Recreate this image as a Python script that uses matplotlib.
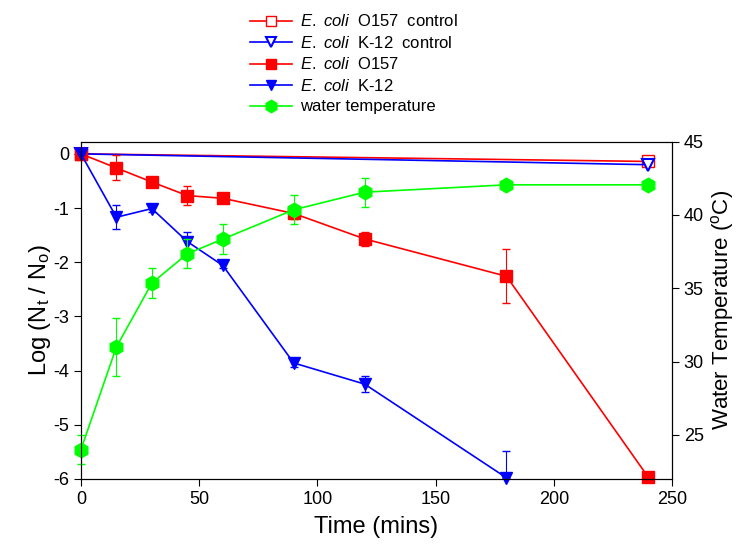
import matplotlib
matplotlib.use("Agg")
import matplotlib.pyplot as plt

plt.rcParams['font.family'] = ['Liberation Sans', 'DejaVu Sans']
plt.rcParams['mathtext.fontset'] = 'custom'
plt.rcParams['mathtext.rm'] = 'Liberation Sans'
plt.rcParams['mathtext.it'] = 'Liberation Sans:italic'
plt.rcParams['axes.unicode_minus'] = False

## data
time = [0, 15, 30, 45, 60, 90, 120, 180, 240]
time_ctrl = [0, 240]

o157_ctrl = [0.0, -0.14]
k12_ctrl = [0.0, -0.2]

o157 = [0.0, -0.26, -0.52, -0.77, -0.82, -1.1, -1.57, -2.26, -5.97]
o157_err = [0.0, 0.23, 0.04, 0.18, 0.05, 0.1, 0.13, 0.5, 0.0]

k12_time = [0, 15, 30, 45, 60, 90, 120, 180]
k12 = [0.0, -1.17, -1.01, -1.62, -2.06, -3.86, -4.25, -5.98]
k12_err_lo = [0.0, 0.22, 0.06, 0.18, 0.04, 0.08, 0.15, 0.0]
k12_err_hi = [0.0, 0.22, 0.06, 0.18, 0.04, 0.08, 0.15, 0.5]

water_temp = [24.0, 31.0, 35.35, 37.35, 38.35, 40.35, 41.55, 42.05, 42.05]
water_err = [1.0, 2.0, 1.0, 1.0, 1.0, 1.0, 1.0, 0.0, 0.0]

red, blue, green = '#ff0000', '#0000ff', '#00ff00'

fig = plt.figure(figsize=(7.36, 5.53), dpi=100)
ax = fig.add_axes([0.110, 0.134, 0.803, 0.610])
ax2 = ax.twinx()

h1, = ax.plot(time_ctrl, o157_ctrl, color=red, marker='s', mfc='white', mec=red,
              ms=8, lw=1.2, label=r'$\it{E.\ coli}$  O157  control')
h2, = ax.plot(time_ctrl, k12_ctrl, color=blue, marker='v', mfc='white', mec=blue,
              ms=8, mew=1.5, lw=1.2, label=r'$\it{E.\ coli}$  K-12  control')
ax.errorbar(time, o157, yerr=o157_err, color=red, lw=0, elinewidth=0.8, capsize=3)
h3, = ax.plot(time, o157, color=red, marker='s', ms=8.5, lw=1.2,
              label=r'$\it{E.\ coli}$  O157')
ax.errorbar(k12_time, k12, yerr=[k12_err_lo, k12_err_hi], color=blue, lw=0,
            elinewidth=0.8, capsize=3)
h4, = ax.plot(k12_time, k12, color=blue, marker='v', ms=9, lw=1.2,
              label=r'$\it{E.\ coli}$  K-12')

ax2.errorbar(time, water_temp, yerr=water_err, color=green, lw=0, elinewidth=0.8, capsize=3)
h5, = ax2.plot(time, water_temp, color=green, marker='h', ms=10.5, lw=1.2,
               label='water temperature')

ax.set_xlim(0, 250)
ax.set_ylim(-6, 0.227)
ax2.set_ylim(22, 45)
ax.set_xticks([0, 50, 100, 150, 200, 250])
ax.set_yticks([0, -1, -2, -3, -4, -5, -6])
ax2.set_yticks([25, 30, 35, 40, 45])
ax.tick_params(labelsize=13, direction='out', length=5)
ax2.tick_params(labelsize=13, direction='out', length=5)
for a in (ax, ax2):
    for ln in a.lines:
        ln.set_clip_on(False)

ax.set_xlabel('Time (mins)', fontsize=17, labelpad=6)
ax.set_ylabel(r'Log (N$_\mathrm{t}$ / N$_\mathrm{o}$)', fontsize=17, labelpad=0)
ax2.set_ylabel(r'Water Temperature ($^\mathrm{o}$C)', fontsize=16, labelpad=4)

fig.legend(handles=[h1, h2, h3, h4, h5], loc='upper left', bbox_to_anchor=(0.322, 1.0),
           frameon=False, fontsize=12, handlelength=2.5, labelspacing=0.33,
           handletextpad=0.5, borderaxespad=0.4, markerscale=0.85)

plt.savefig('out.png', dpi=100)
